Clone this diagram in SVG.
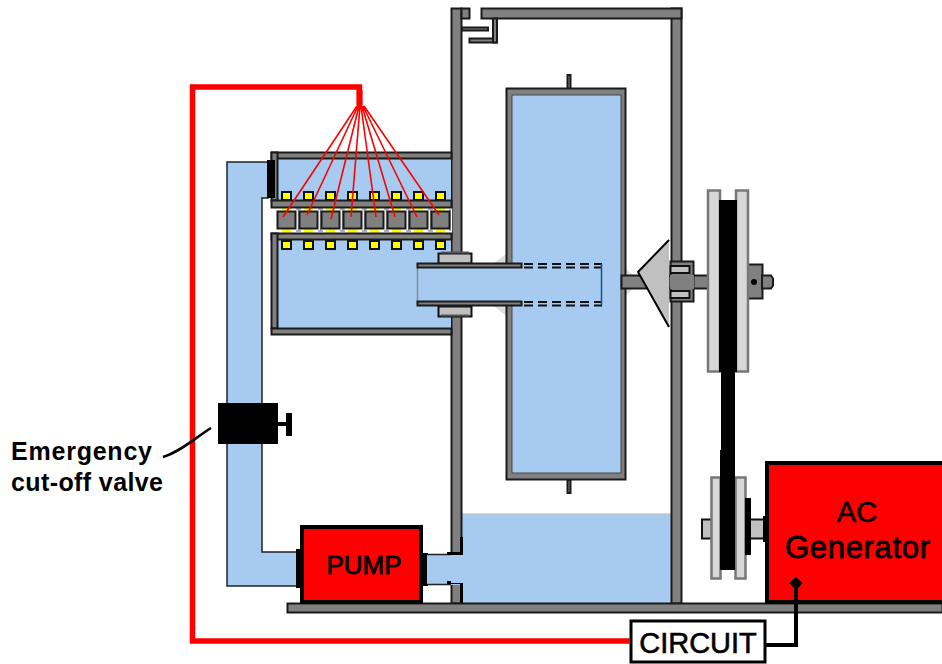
<svg xmlns="http://www.w3.org/2000/svg" width="942" height="664" viewBox="0 0 942 664">
<style>
.g{fill:#808080;stroke:#1a1a1a;stroke-width:2}
.b{fill:#a6caf0}
.bo{fill:#a6caf0;stroke:#222;stroke-width:1.5}
.y{fill:#ff0;stroke:#111;stroke-width:2}
.s{fill:#c0c0c0;stroke:#111;stroke-width:2}
.p{fill:#d8d8d8;stroke:#777;stroke-width:2.5}
.k{fill:#000}
.r{fill:#f00;stroke:#000;stroke-width:4}
.t{font-family:"Liberation Sans",Arial,sans-serif;fill:#000}
.w{fill:none;stroke:#f00;stroke-width:5.5}
.n{fill:none;stroke:#f00;stroke-width:1.6}
.f{fill:#ddd}
</style>
<rect width="942" height="664" fill="#fff"/>
<g id="water"><rect class="b" x="462" y="514" width="209" height="89"/><path d="M462 514H671" stroke="#c8c8c8" stroke-width="1.5"/></g>
<g id="casing">
<polygon class="f" points="494,263 506,263 506,254"/><polygon class="f" points="494,306 506,306 506,316"/><polygon class="f" points="621,275 633,275 621,264"/><polygon class="f" points="621,289 633,289 621,300"/>
<rect class="g" x="451.500" y="8.500" width="10" height="595"/>
<rect class="g" x="671.500" y="8.500" width="10" height="595"/>
<rect class="g" x="461.500" y="8.500" width="8" height="10"/>
<rect class="g" x="481.500" y="8.500" width="200" height="10"/>
<rect class="g" x="462" y="27.500" width="26" height="3"/>
<rect class="g" x="469.500" y="38.500" width="27" height="4"/>
<rect class="g" x="493" y="18.500" width="4" height="24"/>
</g>
<g id="inlet-pipe">
<path class="bo" d="M268 162H227V586H297V552H262V198H268Z"/>
<path class="k" d="M296 549h6v39h-6zM422 553h6v33h-6z"/>
<path d="M427 554H461V585H427Z" fill="#a6caf0"/>
<path d="M427 554.500H451M427 584.500H451" stroke="#222" stroke-width="1.500"/>
<path class="k" d="M460 537h3v18h-16v-3h13zM447 581h16v22h-3v-19h-13z"/>
<rect x="451" y="555" width="12" height="28" fill="#a6caf0"/>
</g>
<g id="chamber">
<rect class="b" x="278" y="159" width="173" height="42"/>
<rect class="b" x="278" y="240" width="173" height="88"/>
<rect x="274" y="208" width="178" height="25" fill="#fff"/>
<g id="yellow-upper">
<rect class="y" x="282" y="192" width="9" height="8"/><rect class="y" x="304" y="192" width="9" height="8"/><rect class="y" x="326" y="192" width="9" height="8"/><rect class="y" x="348" y="192" width="9" height="8"/><rect class="y" x="370" y="192" width="9" height="8"/><rect class="y" x="392" y="192" width="9" height="8"/><rect class="y" x="414" y="192" width="9" height="8"/><rect class="y" x="436" y="192" width="9" height="8"/>
</g>
<g id="yellow-lower">
<rect class="y" x="282" y="241" width="9" height="8"/><rect class="y" x="304" y="241" width="9" height="8"/><rect class="y" x="326" y="241" width="9" height="8"/><rect class="y" x="348" y="241" width="9" height="8"/><rect class="y" x="370" y="241" width="9" height="8"/><rect class="y" x="392" y="241" width="9" height="8"/><rect class="y" x="414" y="241" width="9" height="8"/><rect class="y" x="436" y="241" width="9" height="8"/>
</g>
<path d="M282 208h9v25h-9zM304 208h9v25h-9zM326 208h9v25h-9zM348 208h9v25h-9zM370 208h9v25h-9zM392 208h9v25h-9zM414 208h9v25h-9zM436 208h9v25h-9z" fill="#ff0"/>
<path d="M296 209h5M298.500 209v22M296 231h5M318 209h5M320.500 209v22M318 231h5M340 209h5M342.500 209v22M340 231h5M362 209h5M364.500 209v22M362 231h5M384 209h5M386.500 209v22M384 231h5M406 209h5M408.500 209v22M406 231h5M428 209h5M430.500 209v22M428 231h5M450 209v22" stroke="#999" stroke-width="1.500" fill="none"/>
<rect class="g" x="277.500" y="211.500" width="18" height="17"/><rect class="g" x="299.500" y="211.500" width="18" height="17"/><rect class="g" x="321.500" y="211.500" width="18" height="17"/><rect class="g" x="343.500" y="211.500" width="18" height="17"/><rect class="g" x="365.500" y="211.500" width="18" height="17"/><rect class="g" x="387.500" y="211.500" width="18" height="17"/><rect class="g" x="409.500" y="211.500" width="18" height="17"/><rect class="g" x="431.500" y="211.500" width="18" height="17"/>
<rect class="g" x="271.500" y="152.500" width="180" height="6"/>
<rect class="g" x="271.500" y="152.500" width="6" height="48"/>
<rect class="g" x="271.500" y="200.500" width="180" height="7"/>
<rect class="g" x="271.500" y="233.500" width="180" height="6"/>
<rect class="g" x="271.500" y="233.500" width="6" height="95"/>
<rect class="g" x="271.500" y="328.500" width="180" height="6"/>
<rect class="k" x="267" y="160" width="8" height="38"/>
</g>
<g id="turbine">
<rect class="g" x="567.500" y="75" width="3" height="14"/>
<rect class="g" x="567.500" y="480" width="3" height="13"/>
<rect class="g" x="506.500" y="88.500" width="119" height="391"/>
<rect class="b" x="512" y="95" width="109" height="378" stroke="#444" stroke-width="1"/>
</g>
<g id="shaft">
<rect class="s" x="438.500" y="253.500" width="33" height="10"/>
<rect class="s" x="438.500" y="306.500" width="33" height="10"/>
<path d="M441 252.500H469M441 315.500H469" stroke="#555" stroke-width="2"/>
<rect class="b" x="417" y="264" width="185" height="41"/>
<path d="M417.500 264V305" stroke="#888" stroke-width="1.500"/>
<rect class="g" x="417.500" y="263.500" width="104" height="4"/>
<rect class="g" x="417.500" y="301.500" width="104" height="4"/>
<path d="M524 264H602M524 267.500H602M524 302H602M524 305.500H602" stroke="#111" stroke-width="2" stroke-dasharray="9 5"/>
<path d="M601.500 264V305" stroke="#158" stroke-width="1.500"/>
<rect class="g" x="621.500" y="275.500" width="87" height="13"/>
<rect class="g" x="670.500" y="261.500" width="23" height="40"/>
<rect class="s" x="670.500" y="266" width="19" height="7"/>
<rect class="s" x="670.500" y="291" width="19" height="7"/>
<rect x="670" y="275" width="24" height="14" fill="#808080"/>
<path d="M669 240L638 272L669 327" fill="#c0c0c0" stroke="#000" stroke-width="2"/>
</g>
<g id="belt">
<rect class="k" x="721" y="360" width="14" height="210"/>
</g>
<g id="upper-pulley">
<rect class="g" x="747.500" y="264.500" width="15" height="34"/>
<path class="g" d="M762 275.500h9l2 3v7l-2 3h-9z"/>
<circle cx="754" cy="282" r="3" fill="#000"/>
<rect class="p" x="708" y="190.500" width="12" height="181"/>
<rect class="p" x="736" y="190.500" width="12" height="181"/>
<rect class="k" x="719" y="200" width="18" height="172"/>
</g>
<g id="lower-pulley">
<rect class="s" x="702" y="519.500" width="10" height="19"/>
<rect class="s" x="750" y="519.500" width="16" height="19"/>
<rect class="p" x="711.500" y="477.500" width="9" height="101"/>
<rect class="p" x="735.500" y="477.500" width="10" height="101"/>
<rect class="k" x="720" y="450" width="15" height="120"/>
<rect class="k" x="745" y="498" width="6" height="57"/>
<rect class="k" x="763" y="516" width="4" height="26"/>
</g>
<g id="base"><rect class="g" x="287.500" y="603.500" width="655" height="9"/></g>
<g id="generator">
<rect class="r" x="767" y="463" width="177" height="139"/>
<text class="t" x="857" y="522" font-size="29" text-anchor="middle" stroke="#000" stroke-width=".6">AC</text>
<text class="t" x="785" y="558" font-size="31" textLength="145" stroke="#000" stroke-width=".8">Generator</text>
</g>
<g id="pump">
<rect class="r" x="302" y="527" width="119" height="75"/>
<text class="t" x="364" y="574" font-size="26" text-anchor="middle" stroke="#000" stroke-width=".8">PUMP</text>
</g>
<g id="valve">
<rect class="k" x="218" y="403" width="60" height="41"/>
<rect class="k" x="278" y="422" width="10" height="4"/>
<rect class="k" x="286" y="413" width="6" height="23"/>
</g>
<g id="circuit">
<rect x="631" y="621" width="134" height="41" fill="#fff" stroke="#000" stroke-width="3"/>
<text class="t" x="698" y="653" font-size="29" text-anchor="middle" stroke="#000" stroke-width=".6">CIRCUIT</text>
</g>
<g id="connectors">
<path class="w" d="M630 641H192.500V87H359.500V108"/>
<path d="M359.500 90V105" stroke="#f00" stroke-width="6"/>
<path class="n" d="M357 106L283 217M358 106L307 215M359 106L331 219M360 106L351 217M361 106L376 217M362 106L395 217M363 106L417 217M364 106L439 215"/>
<path d="M766 645H796V586" fill="none" stroke="#000" stroke-width="4"/>
<path d="M796 577l6 6-6 7-6-7z" fill="#000" stroke="#000"/>
<path d="M163 457C180 452 195 438 211 428" fill="none" stroke="#000" stroke-width="2.500"/>
</g>
<g id="label"><text class="t" x="11" y="460" font-size="25" font-weight="bold" textLength="141" fill="#111">Emergency</text>
<text class="t" x="11" y="491" font-size="25" font-weight="bold" textLength="152" fill="#111">cut-off valve</text></g>
</svg>
